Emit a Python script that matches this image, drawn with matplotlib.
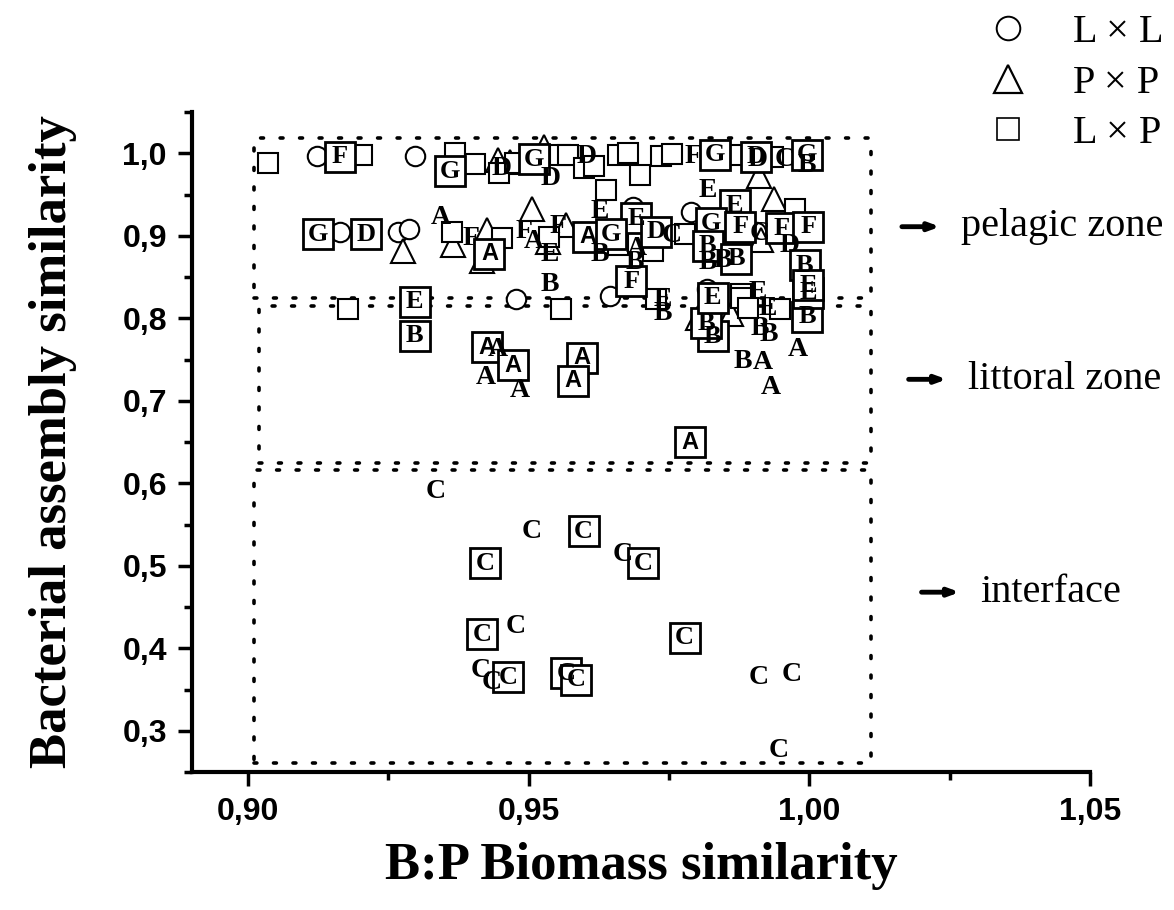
import matplotlib
matplotlib.use("Agg")
import matplotlib.pyplot as plt
from matplotlib.ticker import MultipleLocator, FuncFormatter
from matplotlib.lines import Line2D

# L x L pairs (open circles)
ll_x = [0.9123, 0.9298, 0.9164, 0.9267, 0.9286, 0.9478, 0.9644, 0.9686, 0.9790, 0.9818, 0.9905]
ll_y = [0.997, 0.997, 0.905, 0.905, 0.908, 0.823, 0.827, 0.935, 0.929, 0.836, 0.905]

# P x P pairs (open triangles)
pp_x = [0.9358, 0.9276, 0.9365, 0.9426, 0.9416, 0.9445, 0.9467, 0.9506, 0.9527, 0.9534,
        0.9567, 0.9911, 0.9937, 0.9914, 0.9861, 0.9801]
pp_y = [0.976, 0.881, 0.889, 0.907, 0.870, 0.992, 0.990, 0.933, 1.008, 0.892,
        0.913, 0.973, 0.945, 0.895, 0.805, 0.800]

# L x P pairs (open squares without letter)
lp_x = [0.9035, 0.9203, 0.9368, 0.9405, 0.9447, 0.9476, 0.9509, 0.9555, 0.9364, 0.9453,
        0.9178, 0.9537, 0.9557, 0.9570, 0.9598, 0.9616, 0.9659, 0.9677, 0.9699, 0.9637,
        0.9736, 0.9756, 0.9778, 0.9659, 0.9721, 0.9974, 0.9879, 0.9727, 0.9878, 0.9891,
        0.9947, 0.9870, 0.9935]
lp_y = [0.988, 0.998, 1.000, 0.987, 0.976, 0.988, 0.996, 0.998, 0.905, 0.897,
        0.811, 0.899, 0.811, 0.998, 0.982, 0.984, 0.998, 1.000, 0.974, 0.956,
        0.997, 0.999, 0.902, 0.889, 0.881, 0.933, 0.829, 0.823, 0.824, 0.812,
        0.811, 0.998, 0.996]

# L x P pairs labelled with a letter inside the square
box_x = [0.9163, 0.9359, 0.9510, 0.9124, 0.9210, 0.9430, 0.9297, 0.9297, 0.9426, 0.9472,
         0.9595, 0.9579, 0.9787, 0.9828, 0.9816, 0.9828, 0.9996, 0.9998, 0.9832, 0.9995,
         0.9867, 0.9692, 0.9606, 0.9647, 0.9727, 0.9683, 0.9825, 0.9877, 0.9819, 0.9870,
         0.9950, 0.9998, 0.9992, 0.9998, 0.9905,
         0.9598, 0.9423, 0.9704, 0.9417, 0.9778, 0.9463, 0.9567, 0.9585]
box_y = [0.996, 0.978, 0.993, 0.902, 0.902, 0.878, 0.820, 0.779, 0.765, 0.743,
         0.752, 0.724, 0.650, 0.778, 0.794, 0.825, 0.802, 0.831, 0.998, 0.998,
         0.937, 0.921, 0.899, 0.902, 0.905, 0.845, 0.915, 0.911, 0.888, 0.872,
         0.909, 0.911, 0.864, 0.840, 0.996,
         0.542, 0.503, 0.503, 0.417, 0.413, 0.365, 0.370, 0.362]
box_lab = ["F", "G", "G", "G", "D", "A", "E", "B", "A", "A",
           "A", "A", "A", "B", "B", "E", "B", "E", "G", "G",
           "E", "E", "A", "G", "D", "F", "G", "F", "B", "B",
           "F", "F", "B", "E", "D",
           "C", "C", "C", "C", "C", "C", "C", "C"]

# letters without a marker
let_x = [0.9451, 0.9539, 0.9343, 0.9398, 0.9491, 0.9510, 0.9537, 0.9537, 0.9552, 0.9445,
         0.9423, 0.9484, 0.9908, 0.9926, 0.9911, 0.9927, 0.9882, 0.9917, 0.9932, 0.9979,
         0.9739, 0.9739, 0.9603, 0.9793, 0.9908, 0.9956, 0.9995, 0.9819, 0.9627, 0.9754,
         0.9692, 0.9689, 0.9627, 0.9819, 0.9845, 0.9911, 0.9965,
         0.9334, 0.9505, 0.9667, 0.9476, 0.9414, 0.9434, 0.9909, 0.9969, 0.9945]
let_y = [0.981, 0.969, 0.922, 0.897, 0.905, 0.893, 0.877, 0.841, 0.911, 0.762,
         0.728, 0.712, 0.831, 0.812, 0.788, 0.780, 0.748, 0.747, 0.716, 0.762,
         0.806, 0.823, 0.996, 0.996, 0.992, 0.992, 0.985, 0.955, 0.929, 0.900,
         0.884, 0.868, 0.877, 0.868, 0.870, 0.903, 0.888,
         0.590, 0.541, 0.514, 0.426, 0.373, 0.359, 0.365, 0.368, 0.276]
let_lab = ["D", "D", "A", "F", "F", "A", "E", "B", "F", "A",
           "A", "A", "E", "E", "B", "B", "B", "A", "A", "A",
           "B", "E", "D", "F", "D", "C", "B", "E", "E", "C",
           "A", "B", "B", "B", "B", "C", "D",
           "C", "C", "C", "C", "C", "C", "C", "C", "C"]

# dotted zone boxes: (x0, x1, y0, y1)
zone_names = ["pelagic zone", "littoral zone", "interface"]
zone_x0 = [0.901, 0.902, 0.901]
zone_x1 = [1.011, 1.011, 1.011]
zone_y0 = [0.825, 0.624, 0.261]
zone_y1 = [1.019, 0.815, 0.616]
zone_label_y = [0.911, 0.726, 0.468]
zone_label_x = [1.0165, 1.0177, 1.0200]

serif = "Liberation Serif"
sans = "Liberation Sans"

fig = plt.figure(figsize=(11.74, 9.1), dpi=100)
ax = fig.add_axes([0.1635, 0.1516, 0.7649, 0.7253])

for x0, x1, y0, y1 in zip(zone_x0, zone_x1, zone_y0, zone_y1):
    ax.plot([x0, x1, x1, x0, x0], [y0, y0, y1, y1, y0], color="black",
            lw=2.6, ls=(0, (0.8, 4.6)), dash_capstyle="round", zorder=1)

ax.plot(ll_x, ll_y, "o", ms=14, mfc="white", mec="black", mew=1.5, zorder=3)
ax.plot(pp_x, pp_y, "^", ms=17, mfc="white", mec="black", mew=1.5, zorder=3)
ax.plot(lp_x, lp_y, "s", ms=14, mfc="white", mec="black", mew=1.5, zorder=3)
ax.plot(box_x, box_y, "s", ms=21, mfc="white", mec="black", mew=2, zorder=4)

for x, y, s in zip(box_x, box_y, box_lab):
    if s == "A":
        ax.text(x, y, s, ha="center", va="center", fontsize=17, fontweight="bold",
                family=sans, zorder=5)
    else:
        ax.text(x, y, s, ha="center", va="center", fontsize=19, fontweight="bold",
                family=serif, zorder=5)

for x, y, s in zip(let_x, let_y, let_lab):
    ax.text(x, y, s, ha="center", va="center", fontsize=20, fontweight="bold",
            family=serif, zorder=5)

for name, lx, ly in zip(zone_names, zone_label_x, zone_label_y):
    ax.annotate("", xy=(lx + 0.0068, ly), xytext=(lx, ly), annotation_clip=False,
                arrowprops=dict(arrowstyle="-|>,head_length=0.6,head_width=0.22",
                                color="black", lw=3.5, shrinkA=0, shrinkB=0))
    ax.text(lx + 0.0105, ly, name, ha="left", va="center", fontsize=29,
            family=serif, clip_on=False)

ax.set_xlim(0.89, 1.05)
ax.set_ylim(0.25, 1.05)
ax.xaxis.set_major_locator(MultipleLocator(0.05))
ax.xaxis.set_minor_locator(MultipleLocator(0.025))
ax.yaxis.set_major_locator(MultipleLocator(0.1))
ax.yaxis.set_minor_locator(MultipleLocator(0.05))
ax.set_yticks([0.3, 0.4, 0.5, 0.6, 0.7, 0.8, 0.9, 1.0])
ax.xaxis.set_major_formatter(FuncFormatter(lambda v, p: f"{v:.2f}".replace(".", ",")))
ax.yaxis.set_major_formatter(FuncFormatter(lambda v, p: f"{v:.1f}".replace(".", ",")))

for side in ["top", "right"]:
    ax.spines[side].set_visible(False)
for side in ["left", "bottom"]:
    ax.spines[side].set_linewidth(3)

ax.tick_params(which="major", direction="out", length=10, width=2.5, pad=8)
ax.tick_params(which="minor", direction="out", length=6, width=2.5)
for lab in ax.get_xticklabels() + ax.get_yticklabels():
    lab.set_family(sans)
    lab.set_fontweight("bold")
    lab.set_fontsize(23)

ax.set_xlabel("B:P Biomass similarity", family=serif, fontweight="bold",
              fontsize=38, labelpad=11)
ax.set_ylabel("Bacterial assembly similarity", family=serif, fontweight="bold",
              fontsize=38)
ax.yaxis.set_label_coords(-0.128, 0.5)

handles = [
    Line2D([], [], ls="none", marker="o", ms=17, mfc="white", mec="black", mew=1.4),
    Line2D([], [], ls="none", marker="^", ms=20, mfc="white", mec="black", mew=1.6),
    Line2D([], [], ls="none", marker="s", ms=16, mfc="white", mec="black", mew=1.2),
]
fig.legend(handles, ["L \u00d7 L", "P \u00d7 P", "L \u00d7 P"], loc="upper right",
           bbox_to_anchor=(1.003, 1.0), frameon=False, handletextpad=0.6,
           labelspacing=0.33, borderaxespad=0, borderpad=0.35,
           prop={"family": serif, "size": 29})

fig.savefig("out.png", dpi=100)
